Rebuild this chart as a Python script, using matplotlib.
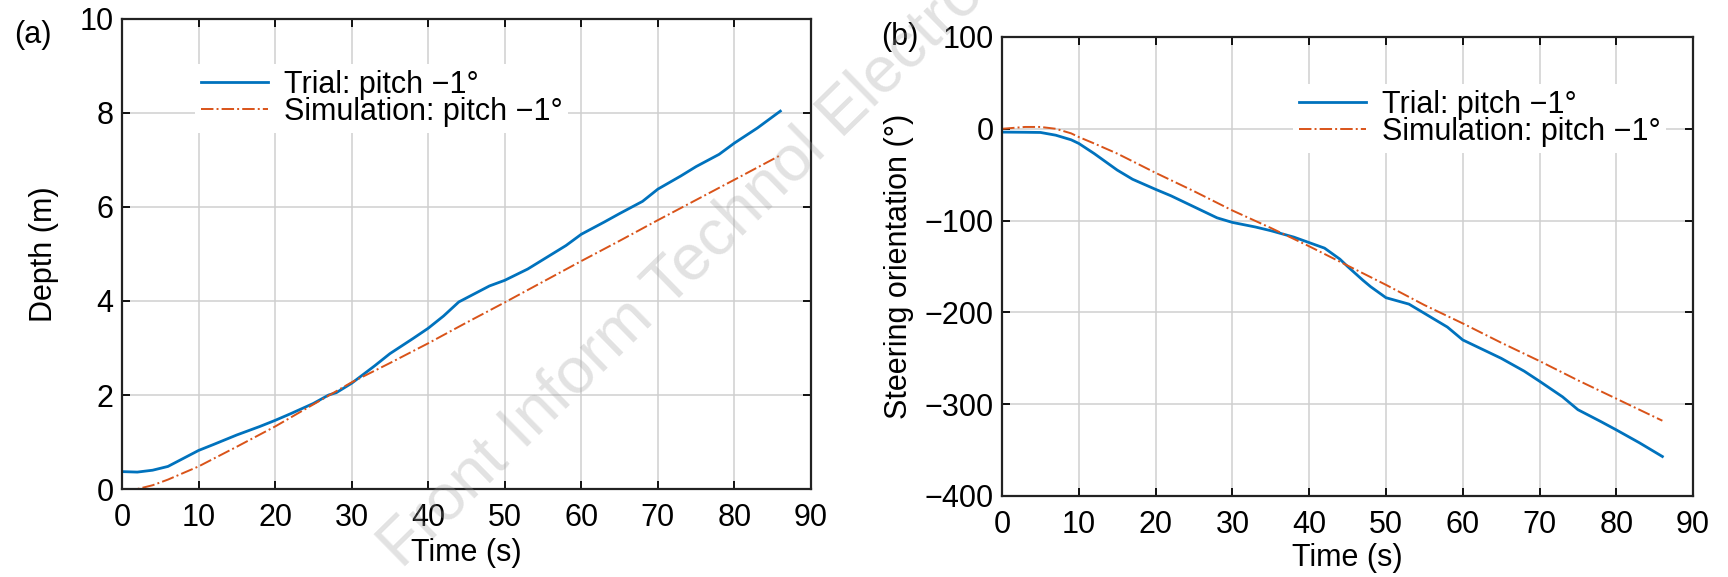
import matplotlib
matplotlib.use("Agg")
import matplotlib.pyplot as plt

plt.rcParams['font.family'] = ['Liberation Sans', 'DejaVu Sans']

# (a) depth vs time
t_depth_trial = [0, 2, 4, 6, 8, 10, 12, 15, 18, 20, 22, 25, 27, 28, 30, 33, 35, 38, 40, 42,
                 44, 46, 48, 50, 53, 55, 58, 60, 63, 65, 68, 70, 73, 75, 78, 80, 83, 86]
depth_trial = [0.37, 0.36, 0.40, 0.48, 0.65, 0.82, 0.95, 1.15, 1.33, 1.46, 1.60, 1.82, 2.0, 2.05,
               2.25, 2.62, 2.88, 3.2, 3.42, 3.68, 3.98, 4.15, 4.32, 4.44, 4.68, 4.88, 5.18, 5.42,
               5.68, 5.86, 6.12, 6.38, 6.66, 6.86, 7.12, 7.36, 7.68, 8.04]
t_depth_sim = [0, 2, 4, 6, 8, 10, 15, 20, 25, 30, 35, 40, 45, 50, 55, 60, 65, 70, 75, 80, 86]
depth_sim = [0.0, 0.0, 0.08, 0.2, 0.34, 0.48, 0.9, 1.33, 1.8, 2.27, 2.68, 3.1, 3.54, 3.97,
             4.41, 4.85, 5.28, 5.72, 6.15, 6.58, 7.10]

# (b) steering orientation vs time
t_steer_trial = [0, 3, 5, 7, 9, 10, 12, 14, 15, 17, 20, 22, 25, 28, 30, 33, 35, 38, 40, 42,
                 44, 45, 47, 48, 50, 53, 55, 58, 60, 63, 65, 68, 70, 73, 75, 78, 80, 83, 86]
steer_trial = [-3.6, -3.8, -4, -7, -12, -16, -27, -39, -45, -55, -66, -73, -85, -97, -102,
               -107, -111, -118, -124, -130, -142, -150, -165, -172, -184, -191, -201, -216,
               -230, -242, -250, -264, -275, -292, -306, -319, -328, -342, -357]
t_steer_sim = [0, 3, 5, 7, 9, 10, 12, 15, 20, 25, 30, 35, 40, 45, 50, 55, 60, 65, 70, 75, 80, 86]
steer_sim = [0, 2, 2, 0, -5, -9, -16, -27, -48, -68, -89, -108, -128, -149, -170, -192, -212,
             -233, -253, -274, -294, -318]

xticks = list(range(0, 91, 10))
blue = '#0072BD'
orange = '#D95319'
fs = 22

fig = plt.figure(figsize=(17.28, 5.77), dpi=100)
ax1 = fig.add_axes([0.0706, 0.1525, 0.3987, 0.8146])
ax2 = fig.add_axes([0.5799, 0.1404, 0.3999, 0.7955])


def style(ax):
    ax.set_xlim(0, 90)
    ax.set_xticks(xticks)
    ax.grid(True, color='#cfcfcf', linewidth=1.1)
    ax.set_axisbelow(True)
    ax.tick_params(direction='in', length=6, width=1.3, top=True, right=True,
                   labelsize=fs)
    ax.tick_params(axis='x', pad=10)
    ax.tick_params(axis='y', pad=6)
    for s in ax.spines.values():
        s.set_linewidth(1.6)
        s.set_color('#222222')


ax1.plot(t_depth_trial, depth_trial, color=blue, lw=2.0, label='Trial: pitch \u22121\u00b0')
ax1.plot(t_depth_sim, depth_sim, color=orange, lw=1.4, ls='-.', label='Simulation: pitch \u22121\u00b0')
style(ax1)
ax1.set_ylim(0, 10)
ax1.set_yticks([0, 2, 4, 6, 8, 10])
ax1.set_xlabel('Time (s)', fontsize=fs)
ax1.set_ylabel('Depth (m)', fontsize=fs)
ax1.xaxis.set_label_coords(0.5, -0.104)
ax1.yaxis.set_label_coords(-0.091, 0.5)
ax1.legend(loc='upper left', bbox_to_anchor=(0.106, 0.905), fontsize=fs, frameon=True,
           fancybox=False, edgecolor='none', framealpha=1, borderpad=0.2,
           borderaxespad=0, handlelength=2.2, handletextpad=0.5, labelspacing=-0.1)

ax2.plot(t_steer_trial, steer_trial, color=blue, lw=2.0, label='Trial: pitch \u22121\u00b0')
ax2.plot(t_steer_sim, steer_sim, color=orange, lw=1.4, ls='-.', label='Simulation: pitch \u22121\u00b0')
style(ax2)
ax2.set_ylim(-400, 100)
ax2.set_yticks([-400, -300, -200, -100, 0, 100])
ax2.set_xlabel('Time (s)', fontsize=fs)
ax2.set_ylabel('Steering orientation (\u00b0)', fontsize=fs)
ax2.xaxis.set_label_coords(0.5, -0.103)
ax2.yaxis.set_label_coords(-0.128, 0.5)
ax2.legend(loc='upper left', bbox_to_anchor=(0.421, 0.898), fontsize=fs, frameon=True,
           fancybox=False, edgecolor='none', framealpha=1, borderpad=0.2,
           borderaxespad=0, handlelength=2.2, handletextpad=0.5, labelspacing=-0.1)

fig.text(0.019, 0.939, '(a)', fontsize=fs, ha='center', va='center')
fig.text(0.521, 0.936, '(b)', fontsize=fs, ha='center', va='center')

# watermark
fig.text(402 / 1728, 1 - 570 / 577, 'Front Inform Technol Electron Eng', fontsize=47,
         color='#a0a0a0', alpha=0.3, rotation=44.4, rotation_mode='anchor',
         ha='left', va='baseline', zorder=10)

fig.savefig('out.png', dpi=100)
